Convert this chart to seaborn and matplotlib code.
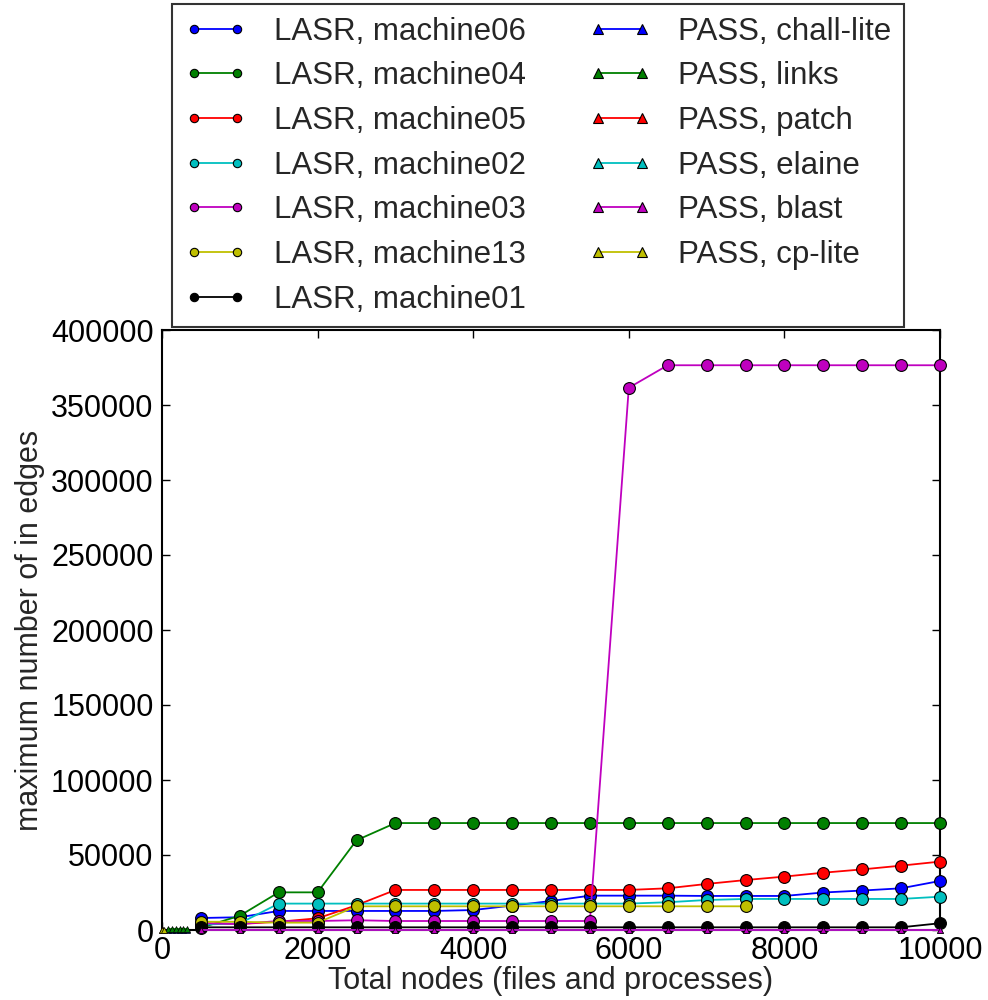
import matplotlib
matplotlib.use("Agg")
import matplotlib.pyplot as plt
from matplotlib.lines import Line2D
import seaborn as sns
import pandas as pd

# ---------------- data ----------------
lasr_x = [500, 1000, 1500, 2000, 2500, 3000, 3500, 4000, 4500, 5000,
          5500, 6000, 6500, 7000, 7500, 8000, 8500, 9000, 9500, 10000]

lasr_machine06 = [8000, 8500, 12700, 12700, 12700, 12700, 12700, 13300, 16300, 19300,
                  22900, 22900, 22900, 22700, 22700, 22700, 25000, 26300, 27800, 32700]
lasr_machine04 = [1500, 9500, 25100, 25100, 59800, 71300, 71300, 71300, 71300, 71300,
                  71300, 71300, 71300, 71300, 71300, 71300, 71300, 71300, 71300, 71300]
lasr_machine05 = [4500, 4000, 5500, 7800, 16500, 26700, 26700, 26700, 26700, 26700,
                  26700, 26700, 27800, 30700, 33300, 35600, 38200, 40400, 42900, 45600]
lasr_machine02 = [3500, 4500, 17600, 17600, 17600, 17600, 17600, 17600, 17600, 17600,
                  17600, 17600, 18500, 20000, 20700, 20700, 20700, 20700, 20700, 22200]
lasr_machine03 = [4500, 4000, 6000, 6000, 6500, 6000, 6000, 6000, 6000, 6000,
                  6000, 361500, 376500, 376500, 376500, 376500, 376500, 376500, 376500, 376500]
lasr_machine13_x = [500, 1000, 1500, 2000, 2500, 3000, 3500, 4000, 4500, 5000,
                    5500, 6000, 6500, 7000, 7500]
lasr_machine13 = [5500, 5500, 4900, 4900, 15800, 15800, 15800, 15800, 15800, 15800,
                  15800, 15800, 15800, 15800, 15800]
lasr_machine01 = [1800, 1800, 1800, 1800, 1800, 1800, 1800, 1800, 1800, 1800,
                  1800, 1800, 1800, 1800, 1800, 1800, 1800, 1800, 1800, 4500]

pass_small_x = [80, 130, 180, 225, 270, 315]
pass_chall_lite = [300, 300, 300, 300, 300, 300]
pass_links = [400, 400, 400, 400, 400, 400]
pass_patch_x = [0, 10]
pass_patch = [200, 200]
pass_long_x = lasr_x
pass_elaine = [200] * 20
pass_blast = [100] * 20
pass_cp_lite_x = [5, 22]
pass_cp_lite = [300, 300]

lasr_labels = ["LASR, machine06", "LASR, machine04", "LASR, machine05", "LASR, machine02",
               "LASR, machine03", "LASR, machine13", "LASR, machine01"]
pass_labels = ["PASS, chall-lite", "PASS, links", "PASS, patch", "PASS, elaine",
               "PASS, blast", "PASS, cp-lite"]

x_ticks = [0, 2000, 4000, 6000, 8000, 10000]
y_ticks = [0, 50000, 100000, 150000, 200000, 250000, 300000, 350000, 400000]

# ---------------- style ----------------
sns.set_style("ticks")
plt.rcParams.update({
    "font.family": ["Liberation Sans", "DejaVu Sans"],
    "xtick.direction": "in", "ytick.direction": "in",
    "xtick.top": True, "ytick.right": True,
    "xtick.major.size": 6, "ytick.major.size": 6,
    "xtick.major.width": 1.0, "ytick.major.width": 1.0,
    "xtick.color": "black", "ytick.color": "black",
    "axes.edgecolor": "black", "axes.linewidth": 1.5,
})

colors = [(0, 0, 1), (0, 0.5, 0), (1, 0, 0), (0, 0.75, 0.75),
          (0.75, 0, 0.75), (0.75, 0.75, 0), (0, 0, 0)]

fig = plt.figure(figsize=(9.88, 10), dpi=100)
ax = fig.add_axes([162 / 988, 0.07, (940 - 162) / 988, 0.60])

lasr_series = [
    (lasr_x, lasr_machine06), (lasr_x, lasr_machine04), (lasr_x, lasr_machine05),
    (lasr_x, lasr_machine02), (lasr_x, lasr_machine03), (lasr_machine13_x, lasr_machine13),
    (lasr_x, lasr_machine01),
]
pass_series = [
    (pass_small_x, pass_chall_lite), (pass_small_x, pass_links), (pass_patch_x, pass_patch),
    (pass_long_x, pass_elaine), (pass_long_x, pass_blast), (pass_cp_lite_x, pass_cp_lite),
]

for (xs, ys), c, lab in zip(lasr_series, colors, lasr_labels):
    df = pd.DataFrame({"x": xs, "y": ys})
    sns.lineplot(data=df, x="x", y="y", ax=ax, color=c, marker="o", markersize=8.5,
                 markeredgecolor="black", markeredgewidth=0.8, linewidth=1.3,
                 legend=False, clip_on=False, zorder=3)

for (xs, ys), c, lab in zip(pass_series, colors, pass_labels):
    df = pd.DataFrame({"x": xs, "y": ys})
    sns.lineplot(data=df, x="x", y="y", ax=ax, color=c, marker="^", markersize=4,
                 markeredgecolor="black", markeredgewidth=0.5, linewidth=1.3,
                 legend=False, clip_on=False, zorder=3)

ax.set_xlim(0, 10000)
ax.set_ylim(0, 400000)
ax.set_xticks(x_ticks)
ax.set_yticks(y_ticks)
ax.set_xticklabels([str(v) for v in x_ticks], fontsize=22)
ax.set_yticklabels([str(v) for v in y_ticks], fontsize=22)
ax.tick_params(axis="x", pad=4)
ax.tick_params(axis="y", pad=6)
ax.set_xlabel("Total nodes (files and processes)", fontsize=22, labelpad=0)
ax.set_ylabel("maximum number of in edges", fontsize=22, labelpad=4)
for s in ax.spines.values():
    s.set_visible(True)

handles = []
for c in colors:
    handles.append(Line2D([], [], color=c, marker="o", markersize=6,
                          markeredgecolor="black", markeredgewidth=0.8, linewidth=1.3))
for c in colors[:6]:
    handles.append(Line2D([], [], color=c, marker="^", markersize=7,
                          markeredgecolor="black", markeredgewidth=0.8, linewidth=1.3))

leg = fig.legend(handles, lasr_labels + pass_labels, ncol=2, loc="upper left",
                 bbox_to_anchor=(172 / 988, 1.0 - 4 / 1000), fontsize=22.5,
                 frameon=True, fancybox=False, handlelength=1.98, handletextpad=0.88,
                 columnspacing=2.02, labelspacing=0.47, borderpad=0.4,
                 borderaxespad=0, numpoints=2)
leg.get_frame().set_edgecolor("black")
leg.get_frame().set_linewidth(1.5)

fig.savefig("out.png", dpi=100)
